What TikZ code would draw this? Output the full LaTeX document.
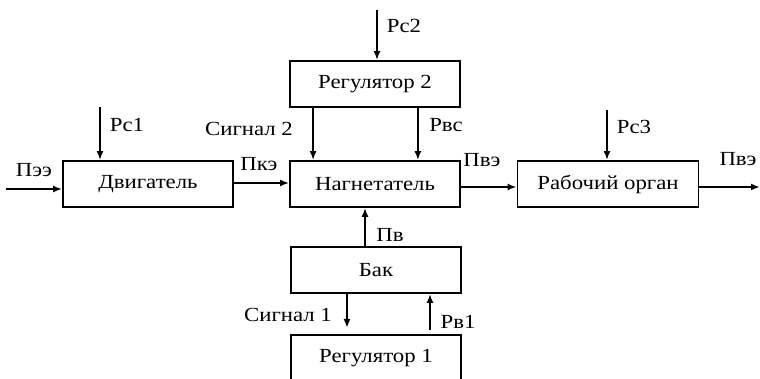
\documentclass[tikz,border=0pt]{standalone}
\usepackage{fontspec}
\setmainfont{Liberation Serif}[FakeStretch=1.14]
\usepackage{tikz}
\usetikzlibrary{arrows.meta, positioning, calc}

\tikzset{
  block/.style={draw, line width=1.8pt, minimum width=170pt,
                minimum height=46pt, inner sep=0pt},
  flow/.style={line width=1.8pt, -{Latex[length=9pt,width=7pt]}},
  lbl/.style={inner sep=0pt}
}

\begin{document}
\begin{tikzpicture}[x=1pt, y=1pt, font=\rmfamily\fontsize{20}{24}\selectfont]
  \useasboundingbox (0,0) rectangle (760,379);
  \clip (0,0) rectangle (760,379);

  % blocks
  \node[block] (dvig) at (148,195) {Двигатель};
  \node[block] (nagn) at (375,195) {Нагнетатель};
  \node[block] (reg2) at (375,295) {Регулятор 2};
  \node[block, minimum width=181pt] (rab) at (608,195) {Рабочий орган};
  \node[block] (bak) at (376,109) {Бак};
  \node[block] (reg1) at (376,21) {Регулятор 1};

  % free ends
  \coordinate (inPee) at (6,190);
  \coordinate (inPc1) at (100,272);
  \coordinate (inPc2) at (377,369);
  \coordinate (inPc3) at (607,269);
  \coordinate (outPve) at (760,192);
  \coordinate (sig1) at (347,51);
  \coordinate (pv1) at (430,49);

  % connectors
  \draw[flow] (inPee) -- (inPee -| dvig.west);
  \draw[flow] (inPc1) -- (inPc1 |- dvig.north);
  \draw[flow] ([yshift=1pt]dvig.east) -- ([yshift=1pt]dvig.east -| nagn.west);
  \draw[flow] (inPc2) -- (inPc2 |- reg2.north);
  \draw[flow] ([xshift=24pt]reg2.south west) -- ([xshift=24pt]nagn.north west);
  \draw[flow] ([xshift=-43pt]reg2.south east) -- ([xshift=-43pt]nagn.north east);
  \draw[flow] ([yshift=-3pt]nagn.east) -- ([yshift=-3pt]nagn.east -| rab.west);
  \draw[flow] (inPc3) -- (inPc3 |- rab.north);
  \draw[flow] (outPve -| rab.east) -- (outPve);
  \draw[flow] ([xshift=-11pt]bak.north) -- ([xshift=-11pt]bak.north |- nagn.south);
  \draw[flow] (sig1 |- bak.south) -- (sig1);
  \draw[flow] (pv1) -- (pv1 |- bak.south);

  % labels
  \node[lbl] (lPee) at (34,209) {Пээ};
  \node[lbl] (lPc1) at (127,254) {Рс1};
  \node[lbl] (lPke) at (259,215) {Пкэ};
  \node[lbl] (lSig2) at (249,250) {Сигнал 2};
  \node[lbl] (lPvs) at (446,254) {Рвс};
  \node[lbl] (lPc2) at (404,353) {Рс2};
  \node[lbl] (lPve1) at (482,219) {Пвэ};
  \node[lbl] (lPc3) at (634,252) {Рс3};
  \node[lbl] (lPve2) at (738,220) {Пвэ};
  \node[lbl] (lPv) at (390,144) {Пв};
  \node[lbl] (lSig1) at (288,64) {Сигнал 1};
  \node[lbl] (lPv1) at (458,57) {Рв1};
\end{tikzpicture}
\end{document}
